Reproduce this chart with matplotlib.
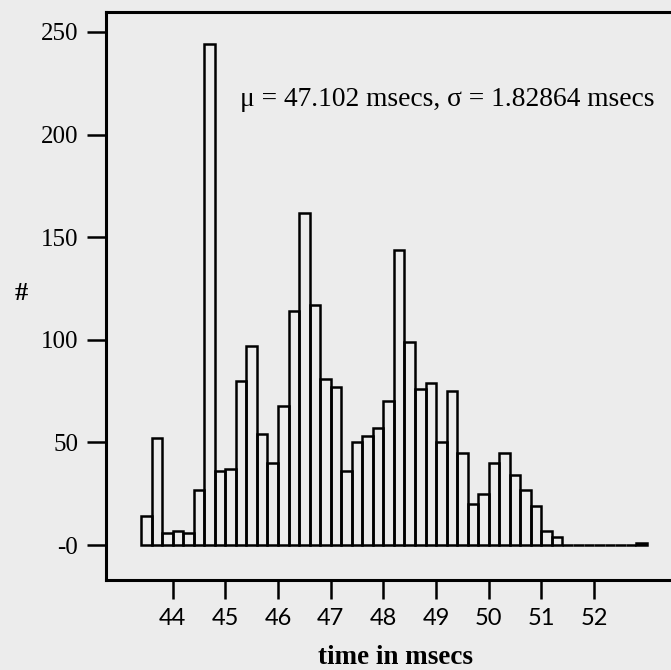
import matplotlib
matplotlib.use("Agg")
import matplotlib.pyplot as plt
import numpy as np

# Histogram data (bin width 0.2 ms)
bin_start = 43.4
bin_width = 0.2
counts = [14, 52, 6, 7, 6, 27, 244, 36, 37, 80,
          97, 54, 40, 68, 114, 162, 117, 81, 77, 36,
          50, 53, 57, 70, 144, 99, 76, 79, 50, 75,
          45, 20, 25, 40, 45, 34, 27, 19, 7, 4,
          0, 0, 0, 0, 0, 0, 0, 1]
x_ticks = [44, 45, 46, 47, 48, 49, 50, 51, 52]
y_ticks = [0, 50, 100, 150, 200, 250]
y_tick_labels = ["-0", "50", "100", "150", "200", "250"]
annotation = "μ = 47.102 msecs, σ = 1.82864 msecs"
x_label = "time in msecs"
y_label = "#"

bg = "#ececec"
fig = plt.figure(figsize=(6.71, 6.70), dpi=100, facecolor=bg)
ax = fig.add_axes([106/671, 1-580/670, 1-106/671, (580-12)/670])
ax.set_facecolor(bg)

lefts = bin_start + bin_width*np.arange(len(counts))
ax.bar(lefts, counts, width=bin_width, align="edge", facecolor="none",
       edgecolor="black", linewidth=1.8)

ax.set_xlim(42.735, 53.46)
ax.set_ylim(-17, 259.7)

for s in ["left", "bottom", "top"]:
    ax.spines[s].set_linewidth(2.2)
ax.spines["right"].set_visible(False)

ax.set_xticks(x_ticks)
ax.set_xticklabels([str(t) for t in x_ticks], fontfamily="Lato", fontsize=17)
ax.set_yticks(y_ticks)
ax.set_yticklabels(y_tick_labels, fontfamily="Liberation Serif", fontsize=18)
ax.tick_params(axis="both", direction="out", length=14, width=1.8, pad=6)

ax.text(45.28, 217, annotation, fontfamily="Liberation Serif", fontsize=19.8,
        va="center", ha="left")

fig.text(395/671, 1-657/670, x_label, fontfamily="Liberation Serif",
         fontweight="bold", fontsize=19.5, ha="center", va="center")
fig.text(21/671, 1-294/670, y_label, fontfamily="Liberation Serif",
         fontweight="bold", fontsize=19, ha="center", va="center")

fig.savefig("out.png", dpi=100, facecolor=bg)
